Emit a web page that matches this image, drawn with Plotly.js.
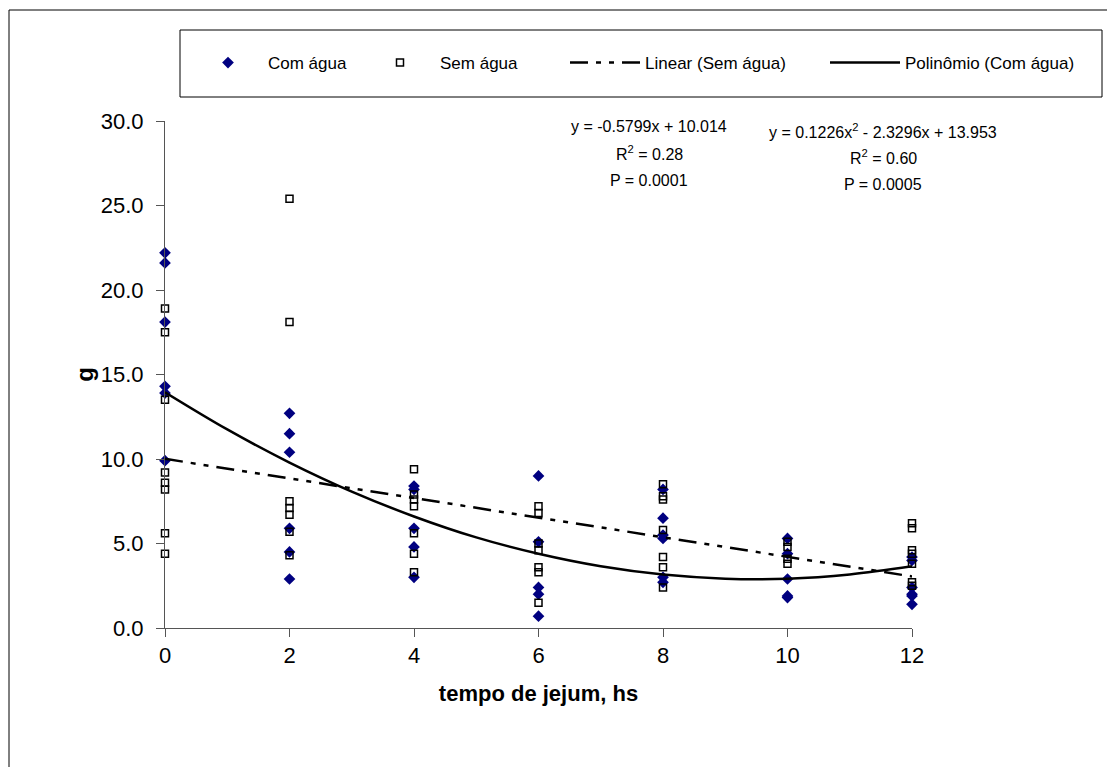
<!DOCTYPE html>
<html>
<head>
<meta charset="utf-8">
<script src="https://cdn.plot.ly/plotly-3.0.1.min.js"></script>
<style>html,body{margin:0;padding:0;background:#fff;}#chart{width:1107px;height:767px;}</style>
</head>
<body>
<div id="chart"></div>
<script>
// Com água (diamonds)
const comX = [0,0,0,0,0,0, 2,2,2,2,2,2, 4,4,4,4,4, 6,6,6,6,6, 8,8,8,8,8,8, 10,10,10,10,10, 12,12,12,12,12,12];
const comY = [22.2,21.6,18.1,14.3,13.9,9.9, 12.7,11.5,10.4,5.9,4.5,2.9, 8.4,8.2,5.9,4.8,3.0, 9.0,5.1,2.4,2.0,0.7, 8.2,6.5,5.5,5.3,3.0,2.7, 5.3,4.4,2.9,1.9,1.8, 4.2,4.0,2.4,2.0,1.9,1.4];
// Sem água (squares)
const semX = [0,0,0,0,0,0,0,0, 2,2,2,2,2,2,2, 4,4,4,4,4,4,4, 6,6,6,6,6,6,6, 8,8,8,8,8,8,8, 10,10,10,10, 12,12,12,12,12,12,12];
const semY = [18.9,17.5,13.5,9.2,8.6,8.2,5.6,4.4, 25.4,18.1,7.5,7.1,6.7,5.7,4.3, 9.4,7.9,7.6,7.2,5.6,4.4,3.3, 7.2,6.8,5.0,4.6,3.6,3.3,1.5, 8.5,7.8,7.6,5.8,4.2,3.6,2.4, 5.1,4.8,4.1,3.8, 6.2,5.9,4.6,4.4,3.8,2.7,2.5];
// Linear trend (Sem água)
const linX = [0, 12];
const linY = [10.01, 3.05];
// Polynomial trend (Com água)
const polyX = [0,1,2,3,4,5,6,7,8,9,10,11,12];
const polyY = [13.95,11.75,9.79,8.07,6.60,5.36,4.39,3.65,3.16,2.92,2.92,3.17,3.65];

const xTicks = [0,2,4,6,8,10,12];
const yTicks = [0,5,10,15,20,25,30];
const yTickText = ['0.0','5.0','10.0','15.0','20.0','25.0','30.0'];

const eqLeft = ['y = -0.5799x + 10.014', 'R<sup>2</sup> = 0.28', 'P = 0.0001'];
const eqRight = ['y = 0.1226x<sup>2</sup> - 2.3296x + 13.953', 'R<sup>2</sup> = 0.60', 'P = 0.0005'];

const FONT = 'Arial, "Liberation Sans", sans-serif';

const traces = [
  {x: comX, y: comY, type: 'scatter', mode: 'markers', name: 'Com água', cliponaxis: false,
   marker: {symbol: 'diamond', size: 9, color: '#000080', line: {width: 0}}, legend: 'legend'},
  {x: semX, y: semY, type: 'scatter', mode: 'markers', name: 'Sem água', cliponaxis: false,
   marker: {symbol: 'square-open', size: 7, color: '#000000', line: {width: 1.5, color: '#000'}}, legend: 'legend2'},
  {x: linX, y: linY, type: 'scatter', mode: 'lines', name: 'Linear (Sem água)', cliponaxis: false,
   line: {color: '#000', width: 2.5, dash: '18px,8px,5px,8px,5px,8px'}, legend: 'legend3'},
  {x: polyX, y: polyY, type: 'scatter', mode: 'lines', name: 'Polinômio (Com água)', cliponaxis: false,
   line: {color: '#000', width: 2.5, shape: 'spline'}, legend: 'legend4'}
];

const W = 747, H = 507, L = 165, T = 121;
const px = v => (v - L) / W;
const py = v => (628 - v) / H;

function legendAt(left) {
  return {x: px(left), y: py(63), xanchor: 'left', yanchor: 'middle', orientation: 'h',
    bgcolor: 'rgba(0,0,0,0)', borderwidth: 0, itemwidth: 70,
    font: {family: FONT, size: 17, color: '#000'}};
}

const annotations = [];
const leftYs = [127, 153, 180];
const rightYs = [131, 157, 184];
eqLeft.forEach((t, i) => annotations.push({xref: 'paper', yref: 'paper', x: px(649), y: py(leftYs[i]),
  text: t, showarrow: false, xanchor: 'center', yanchor: 'middle', font: {family: FONT, size: 16, color: '#000'}}));
eqRight.forEach((t, i) => annotations.push({xref: 'paper', yref: 'paper', x: px(883), y: py(rightYs[i]),
  text: t, showarrow: false, xanchor: 'center', yanchor: 'middle', font: {family: FONT, size: 16, color: '#000'}}));

const layout = {
  width: 1107, height: 767,
  margin: {l: L, r: 1107 - 912, t: T, b: 767 - 628, pad: 0},
  paper_bgcolor: '#fff', plot_bgcolor: '#fff',
  font: {family: FONT, color: '#000'},
  showlegend: true,
  legend: legendAt(188),
  legend2: legendAt(360),
  legend3: legendAt(565),
  legend4: legendAt(825),
  xaxis: {range: [0, 12], tickvals: xTicks, ticktext: xTicks.map(String), ticks: 'outside', ticklen: 8,
    tickcolor: '#555', showline: true, linecolor: '#555', linewidth: 1, showgrid: false, zeroline: false,
    tickfont: {family: FONT, size: 22, color: '#000'},
    title: {text: '<b>tempo de jejum, hs</b>', font: {family: FONT, size: 22, color: '#000'}, standoff: 18}},
  yaxis: {range: [0, 30], tickvals: yTicks, ticktext: yTickText, ticks: 'outside', ticklen: 8,
    tickcolor: '#555', showline: true, linecolor: '#555', linewidth: 1, showgrid: false, zeroline: false,
    tickfont: {family: FONT, size: 22, color: '#000'}, ticklabelstandoff: 8,
    title: {text: '<b>g</b>', font: {family: FONT, size: 24, color: '#000'}, standoff: 0}},
  shapes: [
    {type: 'rect', xref: 'paper', yref: 'paper', x0: px(9), x1: px(1200), y0: py(900), y1: py(10),
     line: {color: '#000', width: 1}, fillcolor: 'rgba(0,0,0,0)', layer: 'below'},
    {type: 'rect', xref: 'paper', yref: 'paper', x0: px(180), x1: px(1102), y0: py(97), y1: py(30),
     line: {color: '#000', width: 1}, fillcolor: 'rgba(0,0,0,0)', layer: 'below'}
  ],
  annotations: annotations
};

Plotly.newPlot('chart', traces, layout, {displayModeBar: false, staticPlot: true});
</script>
</body>
</html>
